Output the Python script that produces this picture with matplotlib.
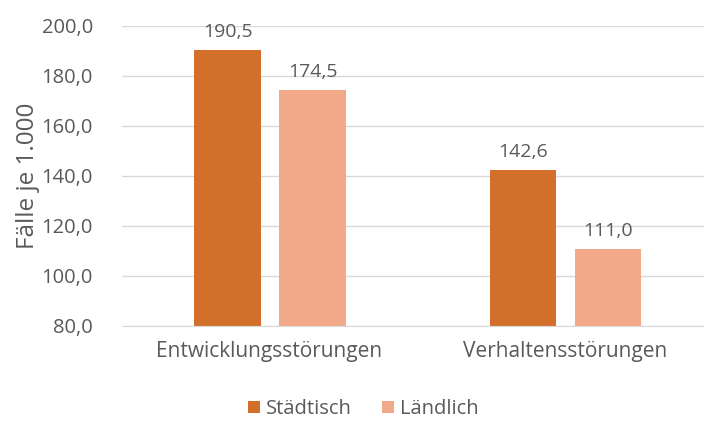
import numpy as np
import matplotlib.pyplot as plt

plt.rcParams['font.family'] = ['Open Sans', 'DejaVu Sans']

# Fälle je 1.000 nach Wohnort
kategorien = ["Entwicklungsstörungen", "Verhaltensstörungen"]
staedtisch = [190.5, 142.6]
laendlich = [174.5, 111.0]
serien = ["Städtisch", "Ländlich"]
yticks = [80, 100, 120, 140, 160, 180, 200]

farbe_dunkel = "#D16F2B"
farbe_hell = "#F1A98A"
grau = "#595959"

fig = plt.figure(figsize=(7.04, 4.21), dpi=100)
ax = fig.add_axes([122 / 704, 95 / 421, (704 - 122) / 704, 300 / 421])

x = np.arange(len(kategorien))
breite = 0.225
b1 = ax.bar(x - 0.142, staedtisch, breite, color=farbe_dunkel, label=serien[0], zorder=3)
b2 = ax.bar(x + 0.146, laendlich, breite, color=farbe_hell, label=serien[1], zorder=3)

for balken, werte in ((b1, staedtisch), (b2, laendlich)):
    for r, v in zip(balken, werte):
        ax.annotate(f"{v:.1f}".replace(".", ","),
                    (r.get_x() + r.get_width() / 2, v),
                    xytext=(0, 6), textcoords="offset points",
                    ha="center", va="bottom", fontsize=14, color=grau)

ax.set_ylim(80, 200)
ax.set_xlim(-0.499, 1.470)
ax.set_yticks(yticks)
ax.set_yticklabels([f"{t:.1f}".replace(".", ",") for t in yticks])
ax.set_xticks(x)
ax.set_xticklabels(kategorien)
ax.tick_params(axis="both", length=0, labelcolor=grau)
ax.tick_params(axis="y", pad=21, labelsize=14.5)
ax.tick_params(axis="x", pad=11, labelsize=15)

ax.grid(axis="y", color="#D9D9D9", linewidth=1, zorder=0)
for s in ["top", "right", "left"]:
    ax.spines[s].set_visible(False)
ax.spines["bottom"].set_color("#D9D9D9")
ax.spines["bottom"].set_zorder(4)

ax.set_ylabel("Fälle je 1.000", fontsize=17.5, color=grau)
ax.yaxis.set_label_coords(-0.141, 0.5)

fig.legend(loc="center", bbox_to_anchor=(363 / 704, 1 - 409 / 421), ncol=2,
           frameon=False, fontsize=14.5, labelcolor=grau,
           handlelength=0.6, handleheight=0.6, handletextpad=0.3, columnspacing=1.5)

fig.savefig("out.png", dpi=100)
